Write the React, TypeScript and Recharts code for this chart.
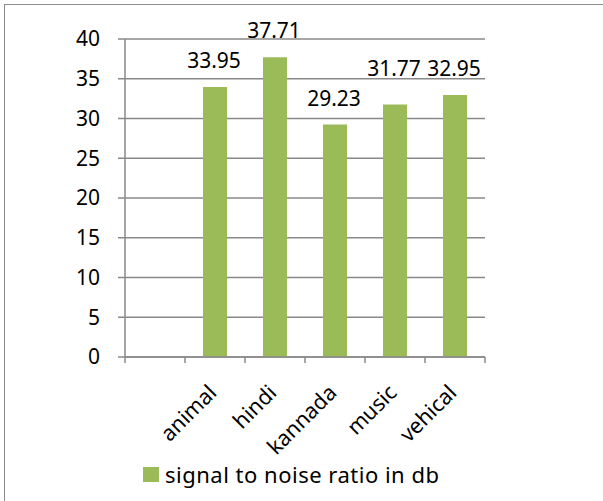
import { BarChart, Bar, XAxis, YAxis, CartesianGrid, LabelList } from 'recharts';

const categories = ['', 'animal', 'hindi', 'kannada', 'music', 'vehical'];
const snrValues: (number | null)[] = [null, 33.95, 37.71, 29.23, 31.77, 32.95];
const yTicks = [0, 5, 10, 15, 20, 25, 30, 35, 40];
const seriesName = 'signal to noise ratio in db';

const data = categories.map((name, i) => ({ name, snr: snrValues[i] }));

const FONT = '"Noto Sans", "Open Sans", sans-serif';
const GRID = '#898989';
const GREEN = '#9bbb59';

// excel had the kannada label dragged up a bit
const labelLift: { [key: string]: number } = { kannada: 9 };

function CategoryTick(props: any) {
  const { x, y, payload, index, visibleTicksCount } = props;
  const half = payload && payload.offset ? payload.offset : 30;
  const axisY = y - 8;
  const isLast = index === visibleTicksCount - 1;
  const tx = x + 3;
  const ty = axisY + 37;
  return (
    <g>
      <line x1={x - half} x2={x - half} y1={axisY} y2={axisY + 6} stroke={GRID} strokeWidth={1.5} />
      {isLast && (
        <line x1={x + half} x2={x + half} y1={axisY} y2={axisY + 6} stroke={GRID} strokeWidth={1.5} />
      )}
      {payload.value && (
        <text
          x={tx}
          y={ty}
          textAnchor="end"
          transform={`rotate(-45, ${tx}, ${ty})`}
          fontSize={21.5}
          fontFamily={FONT}
          fill="#000"
        >
          {payload.value}
        </text>
      )}
    </g>
  );
}

function ValueLabel(props: any) {
  const { x, y, width, value, index } = props;
  if (value == null) return null;
  const lift = labelLift[categories[index]] || 0;
  return (
    <text
      x={x + width / 2 - 1}
      y={y - 19 - lift}
      textAnchor="middle"
      fontSize={21}
      fontFamily={FONT}
      fill="#000"
    >
      {value}
    </text>
  );
}

export default function App() {
  return (
    <div style={styles.page}>
      <div style={styles.frame} />
      <BarChart
        width={603}
        height={501}
        data={data}
        margin={{ top: 39, right: 118, left: 65, bottom: 0 }}
        barSize={24}
      >
        <CartesianGrid vertical={false} stroke={GRID} strokeWidth={1.5} />
        <YAxis
          width={60}
          domain={[0, 40]}
          ticks={yTicks}
          interval={0}
          tickSize={7}
          tickMargin={18}
          axisLine={{ stroke: GRID, strokeWidth: 1.5 }}
          tickLine={{ stroke: GRID, strokeWidth: 1.5 }}
          tick={{ fontSize: 21, fontFamily: FONT, fill: '#000' }}
        />
        <XAxis
          dataKey="name"
          height={144}
          interval={0}
          tickSize={6}
          tickMargin={2}
          tickLine={false}
          axisLine={{ stroke: GRID, strokeWidth: 1.5 }}
          tick={<CategoryTick />}
        />
        <Bar dataKey="snr" name={seriesName} fill={GREEN} isAnimationActive={false}>
          <LabelList dataKey="snr" content={<ValueLabel />} />
        </Bar>
      </BarChart>
      <div style={styles.legend}>
        <span style={styles.swatch} />
        <span>{seriesName}</span>
      </div>
    </div>
  );
}

const styles: { [key: string]: React.CSSProperties } = {
  page: {
    position: 'absolute',
    left: 0,
    top: 0,
    width: 603,
    height: 501,
    background: '#fff',
    overflow: 'hidden',
  },
  frame: {
    position: 'absolute',
    left: 4,
    top: 4,
    width: 620,
    height: 520,
    borderTop: '1.5px solid #8c8c8c',
    borderLeft: '1.5px solid #8c8c8c',
  },
  legend: {
    position: 'absolute',
    left: 143,
    top: 462,
    display: 'flex',
    alignItems: 'center',
    fontFamily: FONT,
    fontSize: 22,
    letterSpacing: '0.5px',
    color: '#000',
    lineHeight: '24px',
  },
  swatch: {
    display: 'inline-block',
    width: 16,
    height: 15,
    background: GREEN,
    marginRight: 6,
  },
};
